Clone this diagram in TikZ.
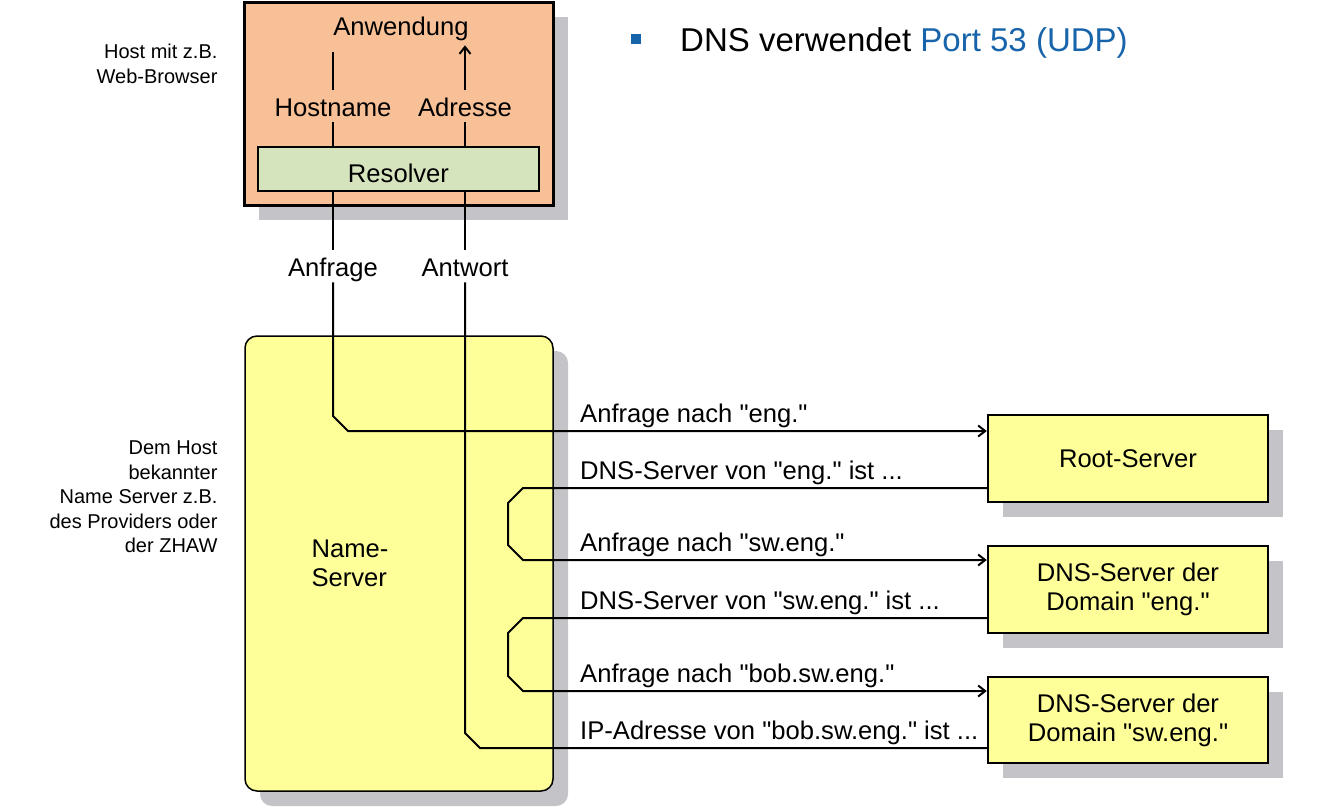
\documentclass[tikz,border=0pt]{standalone}
\usepackage{fontspec}
\setmainfont{Liberation Sans}
\newfontfamily\dnsfont{Liberation Sans}
\usetikzlibrary{arrows.meta,calc,shadows}
\definecolor{hostorange}{RGB}{248,192,150}
\definecolor{resgreen}{RGB}{214,228,190}
\definecolor{srvyellow}{RGB}{255,255,153}
\definecolor{shadowgray}{RGB}{196,196,200}
\definecolor{portblue}{RGB}{24,100,170}
\begin{document}
\begin{tikzpicture}[x=1pt, y=-1pt,
        big/.style={font={\dnsfont\fontsize{25.6}{29}\selectfont}},
        small/.style={font={\dnsfont\fontsize{20}{24.5}\selectfont}, align=right, anchor=east},
        lbl/.style={big, text height=23pt, text depth=2.6pt, inner sep=3pt, anchor=base},
        msg/.style={big, text height=23pt, text depth=2.6pt, inner xsep=3pt, inner ysep=5.4pt, anchor=south west},
        dropped/.style={drop shadow={shadow xshift=15pt, shadow yshift=-15pt, fill=shadowgray, opacity=1}},
        server/.style={draw=black, line width=2.5pt, fill=srvyellow, dropped, minimum width=280pt, minimum height=87pt, big, align=center},
        flow/.style={black, line width=2pt},
        arr/.style={-{Straight Barb[length=7pt,width=11pt]}}
    ]
        \useasboundingbox (0,0) rectangle (1329,807);
        % host
        \node[draw=black, line width=3pt, fill=hostorange, dropped, minimum width=309pt, minimum height=203pt] (host) at (398.5,103.5) {};
        \node[draw=black, line width=1.5pt, fill=resgreen, minimum width=281pt, minimum height=44pt, text height=26pt, text depth=0pt, big] (res) at (398.5,169) {Resolver};
        \node[lbl] (app) at (401,35.5) {Anwendung};
        \node[lbl] (hn) at (333,116.5) {Hostname};
        \node[lbl] (adr) at (465,116.5) {Adresse};
        \node[lbl] (anf) at (333,276.5) {Anfrage};
        \node[lbl] (antw) at (465,276.5) {Antwort};
        \node[small] (hostlbl) at (221,64) {Host mit z.B.\\Web-Browser};
        % name server
        \node[draw=black, line width=1.5pt, fill=srvyellow, rounded corners=12pt, dropped, minimum width=308pt, minimum height=455pt] (ns) at (399,563.5) {};
        \node[big, align=left, anchor=west] (nstxt) at (308,563.5) {Name-\\Server};
        \node[small] (nslbl) at (221,497) {Dem Host\\bekannter\\Name Server z.B.\\des Providers oder\\der ZHAW};
        % other servers
        \node[server] (root) at (1128,458.5) {Root-Server};
        \node[server] (eng) at (1128,589.5) {DNS-Server der\\Domain "eng."};
        \node[server, minimum height=86pt] (sw) at (1128,720) {DNS-Server der\\Domain "sw.eng."};
        \node[msg] (m1) at (577,431) {Anfrage nach "eng."};
        \node[msg] (m2) at (577,488) {DNS-Server von "eng." ist ...};
        \node[msg] (m3) at (577,560) {Anfrage nach "sw.eng."};
        \node[msg] (m4) at (577,618) {DNS-Server von "sw.eng." ist ...};
        \node[msg] (m5) at (577,691) {Anfrage nach "bob.sw.eng."};
        \node[msg] (m6) at (577,748) {IP-Adresse von "bob.sw.eng." ist ...};
        \coordinate (lpL) at (508,0);
        \coordinate (lpR) at (523,0);
        % title
        \node[fill=portblue, minimum size=10pt, inner sep=0pt] (bullet) at (636,39) {};
        \node[font={\dnsfont\fontsize{33}{38}\selectfont}, anchor=base west, inner sep=0pt] (title) at (680,51) {DNS verwendet \textcolor{portblue}{Port 53 (UDP)}};
        % lines
        \draw[flow] (hn.north) -- ($(hn.north |- app.south)+(0,11)$);
        \draw[flow,arr] (adr.north) -- ($(adr.north |- app.south)+(0,4)$);
        \draw[flow] (hn.south) -- (hn.south |- res.north);
        \draw[flow] (adr.south) -- (adr.south |- res.north);
        \draw[flow] (res.south -| anf) -- (anf.north);
        \draw[flow] (res.south -| antw) -- (antw.north);
        \draw[flow,arr] (anf.south) -- ($(anf.south |- m1.south)+(0,-15)$) -- ($(anf.south |- m1.south)+(15,0)$) -- (root.west |- m1.south);
        \foreach \src/\ans/\ask/\dst in {root/m2/m3/eng, eng/m4/m5/sw} {
                \draw[flow,arr] (\src.west |- \ans.south) -- (lpR |- \ans.south) -- ($(lpL |- \ans.south)+(0,15)$) -- ($(lpL |- \ask.south)+(0,-15)$) -- (lpR |- \ask.south) -- (\dst.west |- \ask.south);
            }
        \draw[flow] (antw.south) -- ($(antw.south |- m6.south)+(0,-15)$) -- ($(antw.south |- m6.south)+(15,0)$) -- (sw.west |- m6.south);
    \end{tikzpicture}
\end{document}
